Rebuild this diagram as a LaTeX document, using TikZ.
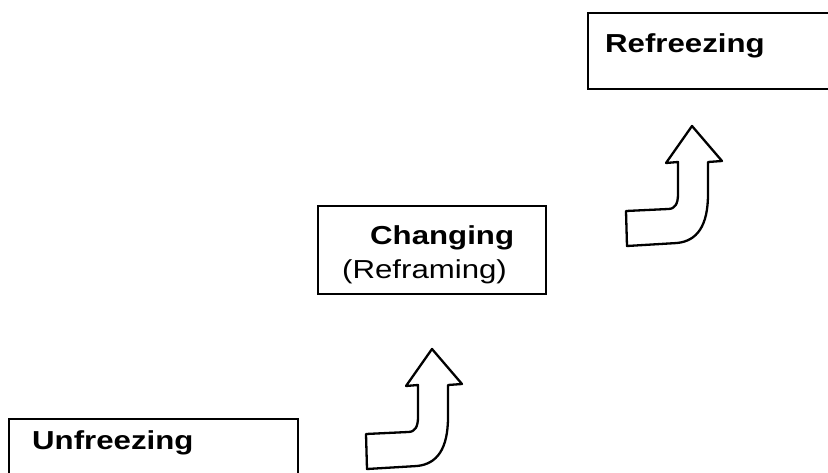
\documentclass[tikz,border=0pt]{standalone}
\usepackage{fontspec}
\setmainfont{Liberation Sans}[FakeStretch=1.2]
\usepackage{tikz}

\begin{document}
\begin{tikzpicture}[x=1pt, y=-1pt,
    stagebox/.style={draw, line width=1.7pt, anchor=north west, inner sep=0pt},
    stagelabel/.style={anchor=base west, inner sep=0pt, font=\fontsize{26}{30}\selectfont\bfseries},
    sublabel/.style={anchor=base west, inner sep=0pt, font=\fontsize{26}{30}\selectfont},
    stagearrow/.pic={
      \draw[line width=2.3pt, line join=round, fill=white]
        (0,0) -- (30,35) -- (16,36) -- (16,68)
        .. controls (16,100) and (5,115) .. (-15,117) -- (-65,120) -- (-66,85)
        -- (-24,83) .. controls (-17,83) and (-14,78) .. (-14,68)
        -- (-14,36) -- (-26,37) -- cycle;
    }]
    \useasboundingbox (0,0) rectangle (828,472);

    % the three stages
    \node[stagebox, minimum width=289pt, minimum height=80pt] (unfreeze) at (8,418) {};
    \node[stagebox, minimum width=228pt, minimum height=88pt] (change) at (317,205) {};
    \node[stagebox, minimum width=260pt, minimum height=76pt] (refreeze) at (587,12) {};

    \node[stagelabel] (unfreezetext) at (32,449) {Unfreezing};
    \node[stagelabel] (changetext) at (370,244) {Changing};
    \node[sublabel] (reframetext) at (342,278) {(Reframing)};
    \node[stagelabel] (refreezetext) at (605,52) {Refreezing};

    % arrows between the stages
    \pic at (432,349) {stagearrow};
    \pic at (692,126) {stagearrow};
\end{tikzpicture}
\end{document}
